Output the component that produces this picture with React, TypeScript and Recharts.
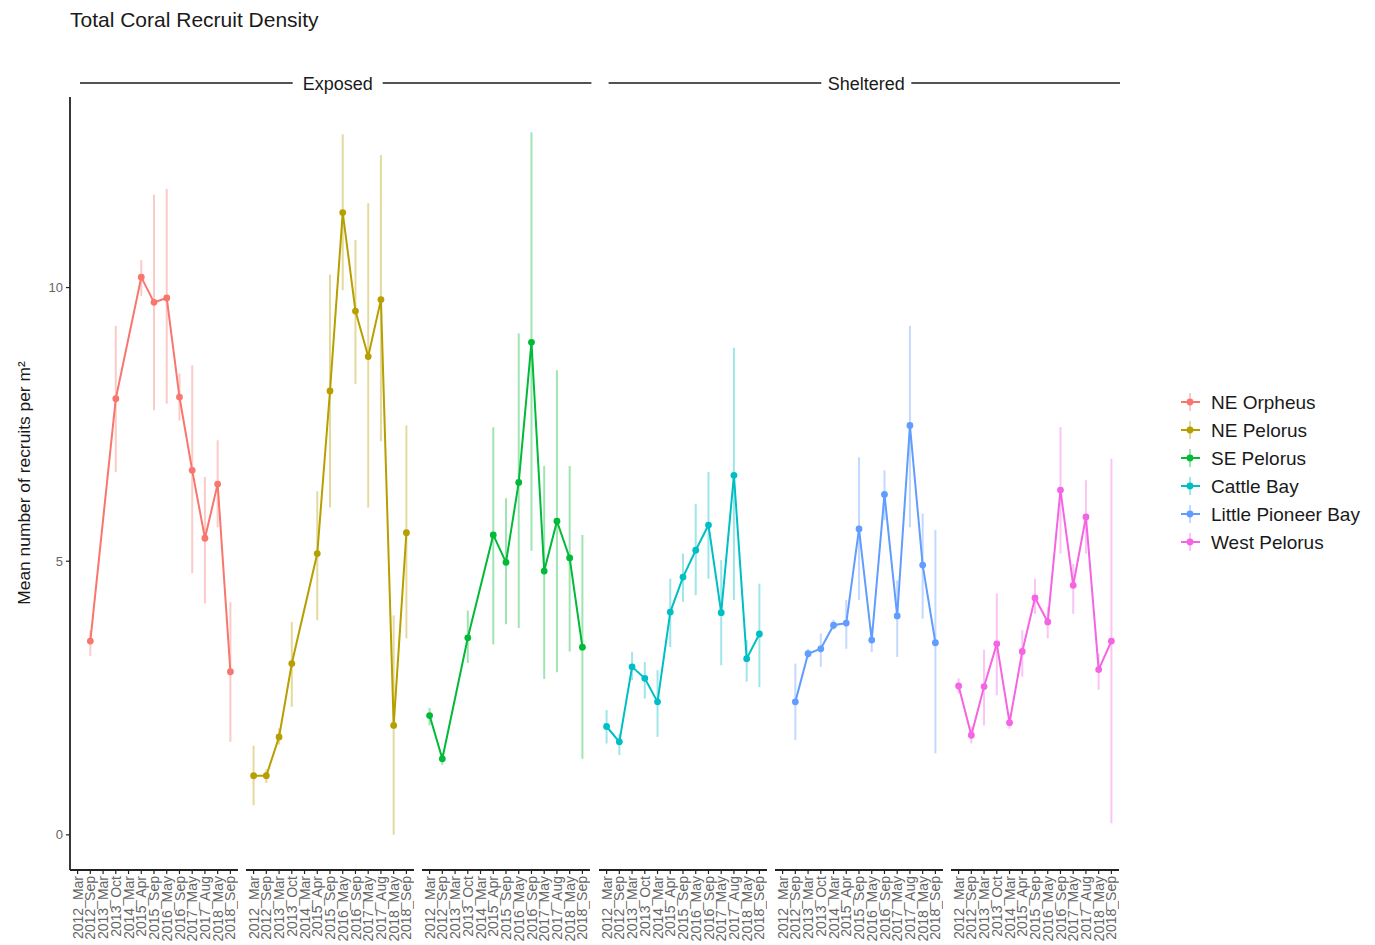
import React from "react";
import { LineChart, Line, XAxis, YAxis, ErrorBar } from "recharts";

const DATES = [
  "2012_Mar", "2012_Sep", "2013_Mar", "2013_Oct", "2014_Mar", "2015_Apr", "2015_Sep",
  "2016_May", "2016_Sep", "2017_May", "2017_Aug", "2018_May", "2018_Sep",
];

const SITES = ["NE Orpheus", "NE Pelorus", "SE Pelorus", "Cattle Bay", "Little Pioneer Bay", "West Pelorus"];
const EXPOSURE = ["Exposed", "Sheltered"];
const COLORS = ["#F8766D", "#B79F00", "#00BA38", "#00BFC4", "#619CFF", "#F564E3"];
const Y_TICKS = [0, 5, 10];

// mean recruits per m2 and the ends of each error bar, null = not surveyed
const NE_ORPHEUS_MEAN = [null, 3.54, null, 7.97, null, 10.19, 9.73, 9.81, 8.0, 6.66, 5.42, 6.41, 2.98];
const NE_ORPHEUS_LOW = [null, 3.27, null, 6.63, null, 9.85, 7.76, 7.88, 7.57, 4.78, 4.23, 5.62, 1.7];
const NE_ORPHEUS_HIGH = [null, 3.74, null, 9.3, null, 10.5, 11.7, 11.8, 8.43, 8.58, 6.54, 7.21, 4.25];

const NE_PELORUS_MEAN = [1.08, 1.08, 1.79, 3.13, null, 5.14, 8.11, 11.37, 9.57, 8.74, 9.78, 2.0, 5.52];
const NE_PELORUS_LOW = [0.54, 0.95, 1.65, 2.34, null, 3.92, 5.98, 9.95, 8.24, 5.98, 7.19, 0.0, 3.59];
const NE_PELORUS_HIGH = [1.63, 1.2, 1.95, 3.89, null, 6.28, 10.24, 12.8, 10.87, 11.54, 12.42, 4.01, 7.48];

const SE_PELORUS_MEAN = [2.18, 1.39, null, 3.6, null, 5.48, 4.98, 6.44, 9.0, 4.82, 5.73, 5.06, 3.43];
const SE_PELORUS_LOW = [2.0, 1.28, null, 3.14, null, 3.48, 3.85, 3.78, 5.19, 2.85, 2.97, 3.35, 1.39];
const SE_PELORUS_HIGH = [2.32, 1.5, null, 4.1, null, 7.45, 6.15, 9.16, 12.84, 6.74, 8.49, 6.74, 5.48];

const CATTLE_BAY_MEAN = [1.98, 1.7, 3.07, 2.86, 2.43, 4.07, 4.71, 5.2, 5.66, 4.06, 6.57, 3.22, 3.67];
const CATTLE_BAY_LOW = [1.67, 1.46, 2.83, 2.49, 1.79, 3.43, 4.26, 4.38, 4.68, 3.1, 4.29, 2.8, 2.7];
const CATTLE_BAY_HIGH = [2.28, 1.85, 3.34, 3.16, 3.01, 4.68, 5.14, 6.05, 6.63, 5.02, 8.9, 3.56, 4.59];

const PIONEER_MEAN = [null, 2.43, 3.31, 3.4, 3.83, 3.87, 5.59, 3.56, 6.22, 4.0, 7.48, 4.93, 3.51];
const PIONEER_LOW = [null, 1.73, 3.22, 3.07, 3.75, 3.4, 4.29, 3.34, 5.75, 3.25, 5.62, 3.95, 1.49];
const PIONEER_HIGH = [null, 3.13, 3.4, 3.68, 3.93, 4.29, 6.9, 3.8, 6.66, 4.65, 9.3, 5.87, 5.57];

const WEST_PELORUS_MEAN = [2.72, 1.82, 2.71, 3.49, 2.05, 3.35, 4.33, 3.89, 6.3, 4.56, 5.81, 3.02, 3.54];
const WEST_PELORUS_LOW = [2.58, 1.67, 2.0, 2.55, 1.94, 2.89, 4.04, 3.59, 5.14, 4.04, 5.14, 2.65, 0.21];
const WEST_PELORUS_HIGH = [2.86, 1.98, 3.38, 4.41, 2.22, 3.74, 4.68, 4.16, 7.45, 4.95, 6.48, 3.31, 6.87];

const SERIES = [
  [NE_ORPHEUS_MEAN, NE_ORPHEUS_LOW, NE_ORPHEUS_HIGH],
  [NE_PELORUS_MEAN, NE_PELORUS_LOW, NE_PELORUS_HIGH],
  [SE_PELORUS_MEAN, SE_PELORUS_LOW, SE_PELORUS_HIGH],
  [CATTLE_BAY_MEAN, CATTLE_BAY_LOW, CATTLE_BAY_HIGH],
  [PIONEER_MEAN, PIONEER_LOW, PIONEER_HIGH],
  [WEST_PELORUS_MEAN, WEST_PELORUS_LOW, WEST_PELORUS_HIGH],
];

const FONT = "'Liberation Sans', Arial, Helvetica, sans-serif";
const Y_DOMAIN = [-0.642, 13.482];
const PLOT_TOP = 97;
const PLOT_H = 773;
const X_AXIS_H = 80;
const PANEL_LEFT = 70;
const PANEL_STEP = 176.2;
const PANEL_W = 168;
const Y_AXIS_W = 50;
const AXIS_COLOR = "#222";

function rowsFor(i: number) {
  const [mean, low, high] = SERIES[i];
  return DATES.map((d, k) => ({
    date: d,
    value: mean[k],
    err: mean[k] == null ? null : [mean[k]! - low[k]!, high[k]! - mean[k]!],
  }));
}

const XTick = (props: any) => {
  const { x, y, payload } = props;
  return (
    <g transform={`translate(${x},${y})`}>
      <text transform="rotate(-90)" x={0} y={0} dy="0.36em" textAnchor="end"
        fontSize={14} fill="#666" fontFamily={FONT}>
        {payload.value}
      </text>
    </g>
  );
};

function Panel({ i }: { i: number }) {
  const showY = i === 0;
  const left = PANEL_LEFT + i * PANEL_STEP - (showY ? Y_AXIS_W : 0);
  const color = COLORS[i];
  return (
    <div style={{ position: "absolute", left, top: PLOT_TOP }}>
      <LineChart
        width={PANEL_W + (showY ? Y_AXIS_W : 0)}
        height={PLOT_H + X_AXIS_H}
        data={rowsFor(i)}
        margin={{ top: 0, right: 0, bottom: 0, left: 0 }}
      >
        <XAxis
          dataKey="date"
          type="category"
          scale="point"
          interval={0}
          padding={{ left: 7.6, right: 7.6 }}
          height={X_AXIS_H}
          tickSize={4}
          tickMargin={2}
          tick={<XTick />}
          axisLine={{ stroke: AXIS_COLOR, strokeWidth: 1.8 }}
          tickLine={{ stroke: AXIS_COLOR, strokeWidth: 1.2 }}
        />
        <YAxis
          type="number"
          domain={Y_DOMAIN}
          ticks={Y_TICKS}
          allowDataOverflow
          hide={!showY}
          width={Y_AXIS_W}
          tickSize={4}
          tickMargin={3}
          tick={{ fontSize: 13, fill: "#666", fontFamily: FONT }}
          axisLine={{ stroke: AXIS_COLOR, strokeWidth: 1.8 }}
          tickLine={{ stroke: AXIS_COLOR, strokeWidth: 1.2 }}
        />
        <Line
          dataKey="value"
          stroke={color}
          strokeWidth={2}
          connectNulls
          isAnimationActive={false}
          dot={{ r: 3.4, fill: color, stroke: color, strokeWidth: 0 }}
          activeDot={false}
        >
          <ErrorBar dataKey="err" width={0} stroke={color} strokeOpacity={0.38} strokeWidth={2} />
        </Line>
      </LineChart>
    </div>
  );
}

function Strip({ label, from, to }: { label: string; from: number; to: number }) {
  const x1 = PANEL_LEFT + from * PANEL_STEP + 10;
  const x2 = PANEL_LEFT + to * PANEL_STEP + PANEL_W + 1;
  const mid = (x1 + x2) / 2 + 2;
  const half = 45;
  return (
    <g>
      <line x1={x1} x2={mid - half} y1={83} y2={83} stroke="#1a1a1a" strokeWidth={1.6} />
      <line x1={mid + half} x2={x2} y1={83} y2={83} stroke="#1a1a1a" strokeWidth={1.6} />
      <text x={mid} y={89.5} textAnchor="middle" fontSize={18} fill="#1a1a1a" fontFamily={FONT}>
        {label}
      </text>
    </g>
  );
}

export default function App() {
  return (
    <div style={{ position: "absolute", left: 0, top: 0, width: 1375, height: 945, overflow: "hidden", background: "#fff" }}>
      {SITES.map((_, i) => (
        <Panel key={i} i={i} />
      ))}
      <svg width={1375} height={945} style={{ position: "absolute", left: 0, top: 0, pointerEvents: "none" }}>
        <text x={70} y={27} fontSize={21} fill="#1a1a1a" fontFamily={FONT}>
          Total Coral Recruit Density
        </text>
        <Strip label={EXPOSURE[0]} from={0} to={2} />
        <Strip label={EXPOSURE[1]} from={3} to={5} />
        <text transform="translate(30,483) rotate(-90)" textAnchor="middle" fontSize={17.4} fill="#1a1a1a" fontFamily={FONT}>
          Mean number of recruits per m²
        </text>
        {SITES.map((s, i) => {
          const cy = 402 + i * 28;
          return (
            <g key={s}>
              <line x1={1190} x2={1190} y1={cy - 9} y2={cy + 9} stroke={COLORS[i]} strokeOpacity={0.38} strokeWidth={2} />
              <line x1={1181} x2={1200} y1={cy} y2={cy} stroke={COLORS[i]} strokeWidth={2} />
              <circle cx={1190} cy={cy} r={3.4} fill={COLORS[i]} />
              <text x={1211} y={cy + 6.8} fontSize={19} fill="#1a1a1a" fontFamily={FONT}>
                {s}
              </text>
            </g>
          );
        })}
      </svg>
    </div>
  );
}
